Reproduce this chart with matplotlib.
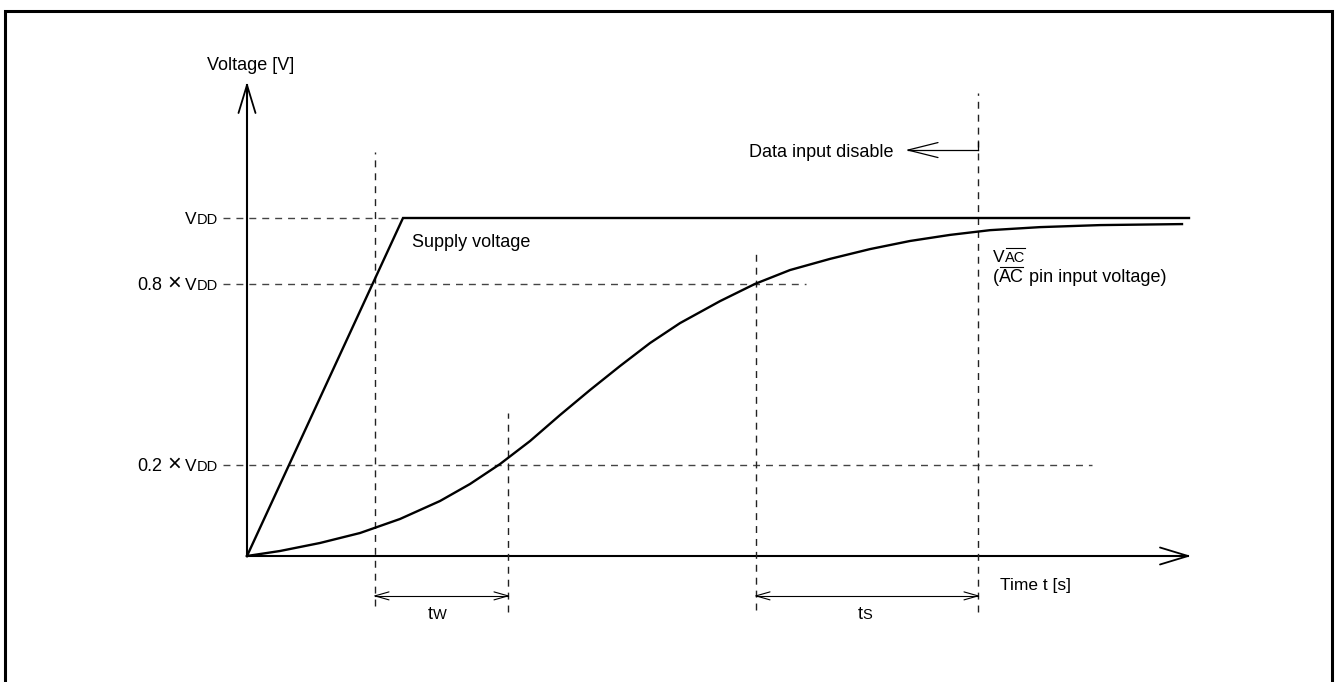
import matplotlib
matplotlib.use("Agg")
import matplotlib.pyplot as plt
from matplotlib.patches import Rectangle

plt.rcParams['font.family'] = ['Liberation Sans', 'DejaVu Sans']
plt.rcParams['lines.scale_dashes'] = False

# ---------------- data (schematic units: time t, voltage as fraction of VDD) -------------
supply_t = [0.0, 1.56, 9.42]
supply_v = [0.0, 1.0, 1.0]

vac_t = [0.0, 0.33, 0.73, 1.13, 1.53, 1.93, 2.23, 2.53, 2.83, 3.13, 3.43, 3.73, 4.03,
         4.33, 4.73, 5.08, 5.43, 5.83, 6.23, 6.63, 7.03, 7.43, 7.93, 8.53, 9.35]
vac_v = [0.0, 0.0148, 0.0385, 0.068, 0.1095, 0.1627, 0.213, 0.272, 0.340, 0.417, 0.491,
         0.562, 0.630, 0.689, 0.754, 0.805, 0.846, 0.879, 0.908, 0.932, 0.950, 0.964,
         0.973, 0.979, 0.982]

level_values = [1.0, 0.805, 0.27]            # VDD, 0.8 x VDD, 0.2 x VDD (schematic)
level_ends = [1.56, 5.59, 8.45]              # where each dashed level line ends
level_prefix = ["", "0.8", "0.2"]

marker_t = [1.28, 2.61, 5.09, 7.31]          # vertical dashed markers
marker_top = [1.195, 0.423, 0.902, 1.370]
marker_bottom = [-0.148, -0.166, -0.160, -0.166]

x_axis_end = 9.41
y_axis_end = 1.3935

# ---------------- figure / axes ----------------
W, H = 1335, 682
fig = plt.figure(figsize=(W / 100, H / 100), dpi=100)
ax = fig.add_axes([0, 0, 1, 1])
SX, SY = 100.0, 338.0                        # px per unit
ax.set_xlim(-247 / SX, (W - 247) / SX)
ax.set_ylim(-(H - 556) / SY, 556 / SY)
ax.axis('off')

fig.add_artist(Rectangle((4.5 / W, -0.05), (1332.3 - 4.5) / W, 1.05 - 10.5 / H,
                         transform=fig.transFigure, fill=False, lw=2.2, ec='black'))

renderer = fig.canvas.get_renderer()
K = 'black'
DASH = (0, (5.0, 4.3))
DCOL = '#444444'


def arrowhead(tip_t, tip_v, direction, L, Wd, lw):
    dx, dy = direction
    bx, by = -dx * L, -dy * L
    px, py = -dy * Wd, dx * Wd
    for s in (1, -1):
        ax.plot([tip_t, tip_t + (bx + s * px) / SX], [tip_v, tip_v + (by + s * py) / SY],
                color=K, lw=lw, solid_capstyle='round')


def seq_text(t, v, pieces, ha='left'):
    """pieces: list of (string, fontsize, gap_px_before)."""
    texts, widths = [], []
    for s, fs, gap in pieces:
        tx = ax.text(0, 0, s, fontsize=fs, va='baseline', ha='left', color=K)
        widths.append(tx.get_window_extent(renderer).width + gap)
        texts.append((tx, gap))
    total = sum(widths)
    x0, y0 = ax.transData.transform((t, v))
    cur = {'left': x0, 'right': x0 - total, 'center': x0 - total / 2}[ha]
    out = []
    for (tx, gap), w in zip(texts, widths):
        cur += gap
        tx.set_position(ax.transData.inverted().transform((cur, y0)))
        out.append((tx, cur))
        cur += w - gap
    return out


def overline(item, v_line):
    tx, x_px = item
    w = tx.get_window_extent(renderer).width
    t0 = ax.transData.inverted().transform((x_px, 0))[0]
    ax.plot([t0 + 0.6 / SX, t0 + (w - 0.6) / SX], [v_line, v_line], color=K, lw=0.8)


# axes with open arrowheads
ax.plot([0, 0], [0, y_axis_end], color=K, lw=1.5)
arrowhead(0, y_axis_end, (0, 1), 28, 8.5, 1.3)
ax.plot([0, x_axis_end], [0, 0], color=K, lw=1.5)
arrowhead(x_axis_end, 0, (1, 0), 28, 8.5, 1.3)

# dashed level lines and labels
for lv, le, pre in zip(level_values, level_ends, level_prefix):
    ax.plot([-0.24, le], [lv, lv], color=DCOL, lw=1.0, linestyle=DASH)
    pieces = []
    if pre:
        pieces += [(pre, 13, 0), ("\u00d7", 17, 5)]
    pieces += [("V", 12.5, 4 if pre else 0), ("DD", 10.5, 0.3)]
    seq_text(-0.29, lv - 6 / SY, pieces, ha='right')

# vertical dashed markers
for mt, top, bot in zip(marker_t, marker_top, marker_bottom):
    ax.plot([mt, mt], [bot, top], color='#222222', lw=1.0, linestyle=DASH)

# curves
ax.plot(supply_t, supply_v, color=K, lw=1.7, solid_joinstyle='miter')
ax.plot(vac_t, vac_v, color=K, lw=1.7, solid_joinstyle='round')

# dimension arrows tW, tS
dim_v = -0.118
for a, b in [(marker_t[0], marker_t[1]), (marker_t[2], marker_t[3])]:
    ax.plot([a, b], [dim_v, dim_v], color=K, lw=0.8)
    arrowhead(a, dim_v, (-1, 0), 14, 4, 0.8)
    arrowhead(b, dim_v, (1, 0), 14, 4, 0.8)

seq_text((marker_t[0] + marker_t[1]) / 2 - 0.045, -0.186, [("t", 13, 0), ("W", 10.5, 0)], ha='center')
seq_text((marker_t[2] + marker_t[3]) / 2 - 0.02, -0.186, [("t", 13, 0), ("S", 10.5, 0)], ha='center')

# data input disable arrow
dia_v = 1.201
ax.plot([marker_t[3], 6.61], [dia_v, dia_v], color=K, lw=0.9)
arrowhead(6.61, dia_v, (-1, 0), 30, 7.5, 0.9)
ax.plot([marker_t[3], marker_t[3]], [dia_v, dia_v + 8 / SY], color=K, lw=0.9)
seq_text(5.02, 1.180, [("Data input disable", 13, 0)])

# texts
seq_text(-0.40, 1.438, [("Voltage [V]", 13, 0)])
seq_text(1.65, 0.914, [("Supply voltage", 13, 0)])
seq_text(7.53, -0.1006, [("Time t [s]", 12.5, 0)])

vac = seq_text(7.46, 0.870, [("V", 12.5, 0), ("AC", 10.5, 0.3)])
overline(vac[1], 0.911)
pin = seq_text(7.46, 0.811, [("(", 13, 0), ("AC", 13, 0), ("pin input voltage)", 13, 5)])
overline(pin[1], 0.855)

fig.savefig("out.png", dpi=100)
